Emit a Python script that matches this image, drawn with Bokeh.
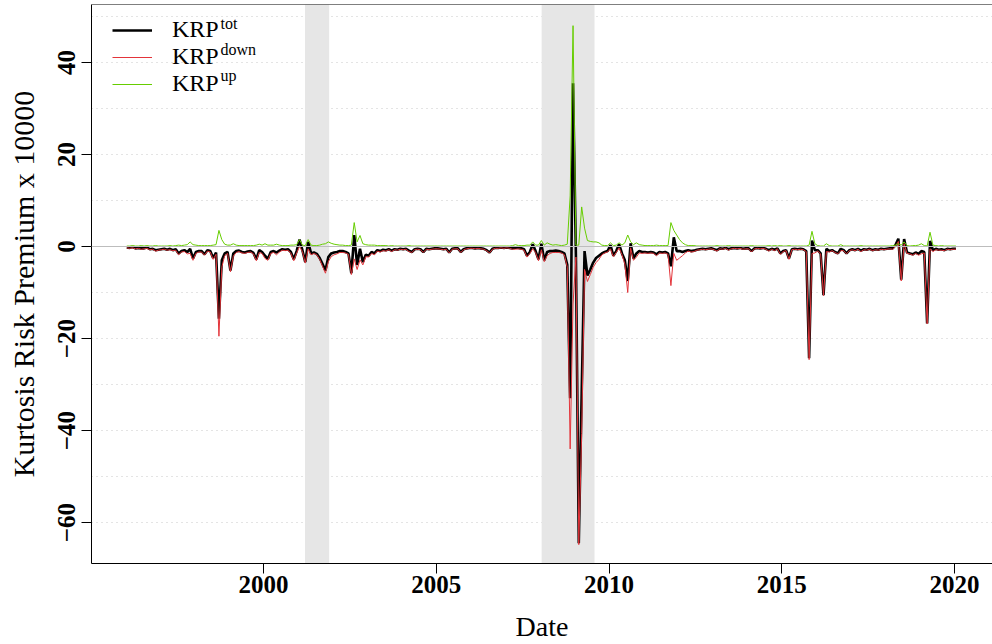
from bokeh.plotting import figure
from bokeh.models import Range1d, FixedTicker, Span, BoxAnnotation, Legend, LegendItem, Label
from bokeh.embed import file_html
from bokeh.resources import INLINE

# ---------------- data (monthly, Jan 1996 .. Jan 2020), x 10000 ----------------
start_year = 1996
krp_tot = [
    -0.2, -0.3, -0.1, -0.4, -0.3, -0.4, -0.4, -0.2, -0.6, -0.5, -0.8, -0.7,   # 1996
    -0.6, -0.5, -0.7, -0.5, -0.8, -0.6, -1.5, -1.0, -0.8, -1.2, -0.5, -2.6,   # 1997
    -1.2, -1.0, -1.0, -1.7, -0.8, -1.0, -2.5, -1.3, -15.7, -3.0, -1.5, -1.2,  # 1998
    -5.2, -1.5, -1.0, -0.9, -1.2, -1.3, -1.1, -1.0, -1.4, -2.8, -0.8, -1.2,   # 1999
    -2.0, -2.7, -1.2, -1.0, -1.3, -0.9, -0.6, -0.7, -0.6, -1.2, -2.8, -1.0,   # 2000
    1.5, -0.8, -3.4, 1.0, -1.5, -1.3, -1.6, -2.5, -3.8, -5.2, -2.3, -1.5,     # 2001
    -1.3, -1.2, -1.0, -1.0, -1.2, -1.5, -5.8, 2.5, -4.0, -0.5, -3.4, -1.8,    # 2002
    -2.0, -1.2, -1.5, -0.8, -1.0, -0.7, -0.8, -0.6, -0.9, -0.6, -0.7, -0.5,   # 2003
    -0.6, -0.5, -0.9, -1.2, -0.6, -0.5, -0.6, -1.2, -0.5, -0.6, -0.5, -0.4,   # 2004
    -0.4, -0.5, -0.6, -0.5, -1.3, -0.5, -0.4, -0.4, -1.2, -0.6, -0.4, -0.3,   # 2005
    -0.3, -0.4, -0.3, -0.4, -0.5, -0.8, -1.3, -0.5, -0.3, -0.3, -0.2, -0.3,   # 2006
    -0.2, -0.3, -0.4, -0.2, -0.3, -0.4, -0.6, -2.0, -1.2, 0.5, -1.0, -2.8,    # 2007
    0.6, -3.0, -1.2, -1.0, -1.0, -0.9, -1.0, -1.2, -1.5, -4.0, -33.0, 35.5,   # 2008
    -2.0, -64.5, -32.0, -1.0, -6.3, -5.0, -3.5, -2.5, -2.0, -1.5, -1.2, -1.0, # 2009
    0.3, -2.0, -1.0, 0.5, -1.5, -3.0, -7.5, 0.7, -2.6, -1.5, -1.0, -1.2,      # 2010
    -1.2, -1.3, -1.2, -1.3, -1.7, -1.2, -1.3, -1.2, -1.5, -4.3, 2.0, -1.0,    # 2011
    -1.0, -1.2, -1.0, -0.8, -1.0, -0.9, -0.7, -0.6, -0.5, -0.6, -0.5, -0.4,   # 2012
    -0.6, -0.8, -0.4, -0.5, -0.3, -0.6, -0.4, -0.3, -0.4, -0.3, -0.5, -0.4,   # 2013
    -0.4, -1.0, -0.4, -0.3, -0.4, -0.3, -0.5, -0.8, -0.5, -0.7, -0.4, -1.5,   # 2014
    -1.0, -0.8, -2.6, -0.6, -0.5, -0.6, -0.5, -0.6, -1.0, -24.3, 1.3, -0.8,   # 2015
    -0.8, -1.5, -10.6, -0.5, -1.0, -0.8, -1.2, -1.5, -0.5, -0.8, -1.5, -0.8,  # 2016
    -0.6, -0.8, -0.5, -0.9, -0.6, -0.7, -0.5, -0.8, -0.6, -0.7, -0.5, -0.6,   # 2017
    -0.5, -0.4, -0.4, 0.3, 1.7, -7.2, 1.6, -1.3, -1.5, -1.7, -1.3, -1.6,      # 2018
    -1.0, -1.2, -16.7, 1.2, -0.8, -0.5, -0.7, -0.6, -0.8, -0.5, -0.6, -0.5,   # 2019
    -0.5,                                                                     # 2020
]
krp_down = [
    -0.3, -0.4, -0.3, -0.5, -0.4, -0.6, -0.5, -0.4, -0.7, -0.6, -1.0, -0.8,   # 1996
    -0.7, -0.6, -0.8, -0.7, -0.9, -0.8, -1.8, -1.2, -1.1, -1.6, -1.5, -3.0,   # 1997
    -1.5, -1.2, -1.2, -1.9, -1.0, -1.2, -2.8, -1.7, -19.5, -4.5, -2.0, -1.5,  # 1998
    -5.5, -2.1, -1.3, -1.1, -1.4, -1.5, -1.3, -1.2, -1.6, -3.1, -1.3, -1.5,   # 1999
    -2.6, -3.0, -1.5, -1.3, -1.8, -1.2, -0.8, -0.9, -0.8, -1.5, -3.1, -1.4,   # 2000
    0.0, -1.1, -3.6, -0.5, -1.8, -1.5, -1.8, -2.8, -4.3, -5.8, -3.3, -2.2,    # 2001
    -1.8, -1.6, -1.3, -1.3, -1.4, -1.7, -6.1, -2.7, -5.0, -2.9, -4.0, -2.2,   # 2002
    -2.3, -1.5, -1.8, -1.0, -1.2, -0.9, -1.0, -0.7, -1.1, -0.7, -0.8, -0.6,   # 2003
    -0.7, -0.6, -1.1, -1.3, -0.7, -0.6, -0.7, -1.3, -0.6, -0.7, -0.6, -0.5,   # 2004
    -0.5, -0.6, -0.7, -0.6, -1.4, -0.6, -0.5, -0.5, -1.3, -0.7, -0.5, -0.4,   # 2005
    -0.4, -0.5, -0.4, -0.5, -0.6, -0.9, -1.4, -0.6, -0.4, -0.4, -0.3, -0.4,   # 2006
    -0.3, -0.4, -0.6, -0.6, -0.5, -0.6, -0.8, -2.3, -1.5, -0.5, -1.3, -3.1,   # 2007
    -0.7, -3.3, -2.0, -1.5, -1.3, -1.3, -1.3, -1.4, -1.8, -4.5, -44.0, -12.5, # 2008
    -2.3, -64.8, -40.6, -5.0, -7.6, -6.1, -4.5, -3.5, -2.8, -1.8, -1.4, -1.2, # 2009
    -0.5, -2.2, -1.3, -0.3, -1.8, -3.8, -10.0, -0.3, -3.0, -2.3, -1.4, -1.5,  # 2010
    -1.4, -1.5, -1.4, -1.5, -2.0, -1.4, -1.5, -1.4, -1.7, -8.5, -1.5, -3.0,   # 2011
    -2.5, -2.0, -1.4, -1.0, -1.2, -1.1, -0.8, -0.7, -0.6, -0.7, -0.6, -0.5,   # 2012
    -0.7, -1.0, -0.5, -0.6, -0.4, -0.8, -0.5, -0.4, -0.5, -0.4, -0.6, -0.5,   # 2013
    -0.5, -1.2, -0.5, -0.4, -0.5, -0.4, -0.6, -1.0, -0.6, -0.9, -0.5, -1.7,   # 2014
    -1.1, -0.9, -2.8, -0.7, -0.6, -0.7, -0.6, -0.7, -1.1, -24.6, -1.5, -1.4,  # 2015
    -1.0, -1.6, -10.7, -1.1, -1.2, -0.9, -1.3, -1.6, -0.9, -0.9, -1.6, -0.9,  # 2016
    -0.7, -0.9, -0.6, -1.1, -0.7, -0.8, -0.6, -0.9, -0.7, -0.8, -0.6, -0.7,   # 2017
    -0.6, -0.5, -0.6, 0.0, 1.1, -7.5, 0.6, -1.5, -1.6, -1.9, -1.5, -1.9,      # 2018
    -1.6, -1.4, -16.8, -0.5, -1.1, -0.7, -0.8, -0.8, -0.9, -0.6, -0.7, -0.6,  # 2019
    -0.6,                                                                     # 2020
]
krp_up = [
    0.1, 0.1, 0.2, 0.1, 0.1, 0.2, 0.1, 0.2, 0.1, 0.1, 0.2, 0.1,    # 1996
    0.1, 0.1, 0.1, 0.2, 0.1, 0.2, 0.3, 0.2, 0.3, 0.4, 1.0, 0.4,    # 1997
    0.3, 0.2, 0.2, 0.2, 0.2, 0.2, 0.3, 0.4, 3.5, 1.5, 0.5, 0.3,    # 1998
    0.3, 0.6, 0.3, 0.2, 0.2, 0.2, 0.2, 0.2, 0.2, 0.3, 0.5, 0.3,    # 1999
    0.6, 0.3, 0.3, 0.3, 0.5, 0.3, 0.2, 0.2, 0.2, 0.3, 0.3, 0.4,    # 2000
    1.5, 0.3, 0.2, 1.5, 0.3, 0.2, 0.2, 0.3, 0.5, 0.6, 1.0, 0.7,    # 2001
    0.5, 0.4, 0.3, 0.3, 0.2, 0.2, 0.3, 5.2, 1.0, 2.4, 0.6, 0.4,    # 2002
    0.3, 0.3, 0.3, 0.2, 0.2, 0.2, 0.2, 0.1, 0.2, 0.1, 0.1, 0.1,    # 2003
    0.1, 0.1, 0.2, 0.1, 0.1, 0.1, 0.1, 0.1, 0.1, 0.1, 0.1, 0.1,    # 2004
    0.1, 0.1, 0.1, 0.1, 0.1, 0.1, 0.1, 0.1, 0.1, 0.1, 0.1, 0.1,    # 2005
    0.1, 0.1, 0.1, 0.1, 0.1, 0.1, 0.1, 0.1, 0.1, 0.1, 0.1, 0.1,    # 2006
    0.1, 0.1, 0.2, 0.4, 0.2, 0.2, 0.2, 0.3, 0.3, 1.0, 0.3, 0.3,    # 2007
    1.3, 0.3, 0.8, 0.5, 0.3, 0.4, 0.3, 0.2, 0.3, 0.5, 11.0, 48.0,  # 2008
    0.3, 0.3, 8.6, 4.0, 1.3, 1.1, 1.0, 1.0, 0.8, 0.3, 0.2, 0.2,    # 2009
    0.8, 0.2, 0.3, 0.8, 0.3, 0.8, 2.5, 1.0, 0.4, 0.8, 0.4, 0.3,    # 2010
    0.2, 0.2, 0.2, 0.2, 0.3, 0.2, 0.2, 0.2, 0.2, 5.2, 3.5, 2.5,    # 2011
    1.5, 0.8, 0.4, 0.2, 0.2, 0.2, 0.1, 0.1, 0.1, 0.1, 0.1, 0.1,    # 2012
    0.1, 0.2, 0.1, 0.1, 0.1, 0.2, 0.1, 0.1, 0.1, 0.1, 0.1, 0.1,    # 2013
    0.1, 0.2, 0.1, 0.1, 0.1, 0.1, 0.1, 0.2, 0.1, 0.2, 0.1, 0.2,    # 2014
    0.1, 0.1, 0.2, 0.1, 0.1, 0.1, 0.1, 0.1, 0.1, 0.3, 3.3, 0.6,    # 2015
    0.2, 0.1, 0.1, 0.6, 0.2, 0.1, 0.1, 0.1, 0.4, 0.1, 0.1, 0.1,    # 2016
    0.1, 0.1, 0.1, 0.2, 0.1, 0.1, 0.1, 0.1, 0.1, 0.1, 0.1, 0.1,    # 2017
    0.1, 0.1, 0.2, 0.3, 0.6, 0.3, 1.0, 0.2, 0.1, 0.2, 0.2, 0.3,    # 2018
    0.6, 0.2, 0.1, 3.1, 0.3, 0.2, 0.1, 0.2, 0.1, 0.1, 0.1, 0.1,    # 2019
    0.1,                                                           # 2020
]
# recession periods (decimal years)
rec_start = [2001.2, 2008.05]
rec_end = [2001.9, 2009.58]
x_ticks = [2000, 2005, 2010, 2015, 2020]
y_ticks = [-60, -40, -20, 0, 20, 40]
grid_ticks = list(range(-60, 51, 10))
legend_labels = ["KRP", "KRP", "KRP"]
legend_sups = ["tot", "down", "up"]

dates = [start_year + (i + 0.5) / 12.0 for i in range(len(krp_tot))]

FONT = "Liberation Serif"
X0, X1 = 1995.02, 2021.1
Y0, Y1 = -68.9, 52.6

p = figure(width=992, height=644, output_backend="svg", toolbar_location=None,
           x_range=Range1d(X0, X1), y_range=Range1d(Y0, Y1),
           min_border_left=91, min_border_right=0, min_border_top=4, min_border_bottom=81)
p.outline_line_color = None
p.background_fill_color = "white"
p.border_fill_color = "white"

# recession shading
for s, e in zip(rec_start, rec_end):
    p.add_layout(BoxAnnotation(left=s, right=e, fill_color="#e6e6e6", fill_alpha=1.0,
                               line_color=None, level="underlay"))

# grid
p.xgrid.visible = False
p.ygrid.ticker = FixedTicker(ticks=grid_ticks)
p.ygrid.grid_line_color = "#c8c8c8"
p.ygrid.grid_line_dash = "1 4"
p.ygrid.grid_line_width = 1

# zero line and top frame line
p.add_layout(Span(location=0, dimension="width", line_color="#bdbdbd", line_width=1.2))
p.add_layout(Span(location=Y1, dimension="width", line_color="black", line_width=1))

r_tot = p.line(dates, krp_tot, line_color="black", line_width=2.6)
r_down = p.line(dates, krp_down, line_color="#e3343a", line_width=1)
r_up = p.line(dates, krp_up, line_color="#66cd00", line_width=1)

# axes
for ax in (p.xaxis, p.yaxis):
    ax.axis_line_color = "black"
    ax.axis_line_width = 1
    ax.major_tick_in = 0
    ax.major_tick_out = 10
    ax.minor_tick_line_color = None
    ax.major_tick_line_color = "black"
    ax.major_label_text_font = FONT
    ax.major_label_text_font_size = "25px"
    ax.major_label_text_font_style = "bold"
    ax.major_label_text_color = "black"
    ax.axis_label_text_font = FONT
    ax.axis_label_text_font_style = "normal"
    ax.axis_label_text_color = "black"

p.xaxis.ticker = FixedTicker(ticks=x_ticks)
p.xaxis.major_label_standoff = 2
p.xaxis.axis_label = "Date"
p.xaxis.axis_label_text_font_size = "28px"
p.xaxis.axis_label_standoff = 15

p.yaxis.ticker = FixedTicker(ticks=y_ticks)
p.yaxis.major_label_orientation = "vertical"
p.yaxis.major_label_standoff = 6
p.yaxis.major_label_overrides = {t: (("\u2212" + str(abs(t))) if t < 0 else str(t)) for t in y_ticks}
p.yaxis.axis_label = "Kurtosis Risk Premium x 10000"
p.yaxis.axis_label_text_font_size = "30px"
p.yaxis.axis_label_standoff = 16

# legend
legend = Legend(items=[LegendItem(label=legend_labels[0], renderers=[r_tot]),
                       LegendItem(label=legend_labels[1], renderers=[r_down]),
                       LegendItem(label=legend_labels[2], renderers=[r_up])],
                location=(21, 466), orientation="vertical",
                border_line_color=None, background_fill_alpha=0,
                padding=0, margin=0, spacing=0,
                glyph_width=40, glyph_height=26, label_height=26, label_standoff=20,
                label_text_font=FONT, label_text_font_size="24px", label_text_color="black")
p.add_layout(legend)

sup_y = [540, 514, 488]
for lab, yy in zip(legend_sups, sup_y):
    p.add_layout(Label(x=129, y=yy, x_units="screen", y_units="screen", text=lab,
                       text_font=FONT, text_font_size="16px", text_color="black",
                       text_baseline="alphabetic", text_align="left"))

open("out.html", "w").write(file_html(p, INLINE))
